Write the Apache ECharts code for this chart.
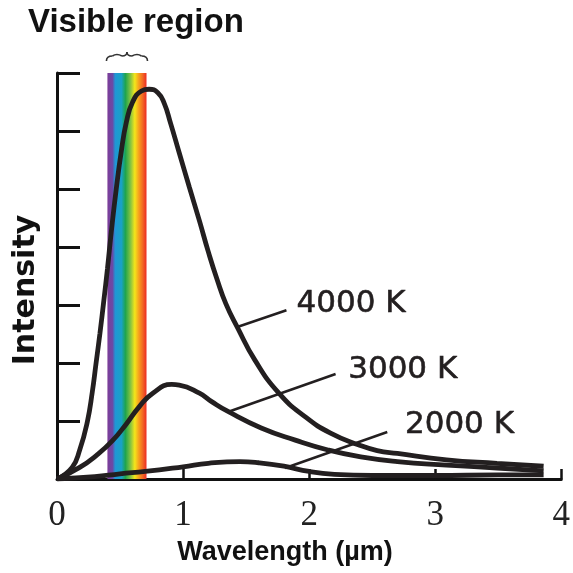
<!DOCTYPE html>
<html>
<head>
<meta charset="utf-8">
<script src="https://cdn.jsdelivr.net/npm/echarts@6/dist/echarts.min.js"></script>
<style>
  html, body { margin: 0; padding: 0; background: #fff; }
  #main { width: 573px; height: 573px; }
</style>
</head>
<body>
<div id="main"></div>
<script type="text/javascript">
// wavelength (um) / intensity pairs
var lam4000 = [0, 0.12, 0.18, 0.24, 0.28, 0.31, 0.34, 0.37, 0.40, 0.43, 0.47, 0.51, 0.55, 0.60, 0.67, 0.73, 0.80, 0.85, 0.90, 0.97, 1.05, 1.13, 1.20, 1.27, 1.34, 1.43, 1.57, 1.76, 1.97, 2.17, 2.39, 2.54, 2.70, 3.09, 3.49, 3.86];
var int4000 = [0, 0.20, 0.50, 0.98, 1.50, 2.00, 2.50, 3.05, 3.62, 4.25, 5.00, 5.65, 6.15, 6.50, 6.69, 6.72, 6.66, 6.48, 6.14, 5.62, 5.03, 4.45, 3.92, 3.44, 3.02, 2.62, 2.05, 1.48, 1.07, 0.79, 0.59, 0.49, 0.44, 0.33, 0.27, 0.22];

var lam3000 = [0, 0.18, 0.32, 0.44, 0.55, 0.65, 0.76, 0.91, 0.97, 1.13, 1.23, 1.36, 1.62, 1.89, 2.15, 2.41, 2.70, 3.09, 3.49, 3.86];
var int3000 = [0, 0.20, 0.42, 0.66, 0.95, 1.24, 1.48, 1.63, 1.62, 1.48, 1.33, 1.16, 0.88, 0.67, 0.50, 0.38, 0.30, 0.24, 0.19, 0.14];

var lam2000 = [0, 0.30, 0.50, 0.70, 1.00, 1.20, 1.45, 1.60, 1.80, 2.00, 2.20, 2.50, 3.00, 3.50, 3.86];
var int2000 = [0, 0.04, 0.09, 0.13, 0.21, 0.27, 0.30, 0.28, 0.22, 0.13, 0.08, 0.06, 0.06, 0.07, 0.07];

var xTicks = [0, 1, 2, 3, 4];
var visibleBand = [0.40, 0.71];

// leader lines: [from, to] in data coords, then label anchor
var leaders = {
    '4000 K': { line: [[1.43, 2.62], [1.82, 2.91]], text: [1.90, 3.02] },
    '3000 K': { line: [[1.36, 1.16], [2.21, 1.81]], text: [2.31, 1.88] },
    '2000 K': { line: [[1.81, 0.19], [2.62, 0.81]], text: [2.76, 0.93] }
};

function zip(a, b) {
    return a.map(function (v, i) { return [v, b[i]]; });
}

var ink = '#231f20';

var myChart = echarts.init(document.getElementById('main'));

function curve(name, lam, val) {
    return {
        name: name,
        type: 'line',
        data: zip(lam, val),
        smooth: 0.5,
        symbol: 'none',
        z: 3,
        lineStyle: { color: ink, width: 4.8, cap: 'butt' },
        markLine: {
            silent: true,
            symbol: ['none', 'none'],
            label: { show: false },
            lineStyle: { color: ink, width: 2.5, type: 'solid' },
            data: [[{ coord: leaders[name].line[0] }, { coord: leaders[name].line[1] }]]
        }
    };
}

option = {
    backgroundColor: '#fff',
    animation: false,
    grid: { left: 57, right: 9, top: 73, bottom: 94 },
    xAxis: {
        type: 'value',
        min: 0,
        max: 4,
        interval: 1,
        splitLine: { show: false },
        axisLine: { show: true, lineStyle: { color: '#111', width: 3 } },
        axisTick: { show: true, inside: true, length: 10, lineStyle: { color: '#111', width: 2.5 } },
        axisLabel: {
            fontFamily: 'Liberation Serif',
            fontSize: 35,
            color: '#222',
            margin: 19,
            formatter: function (v) { return xTicks.indexOf(v) >= 0 ? String(v) : ''; }
        }
    },
    yAxis: {
        type: 'value',
        min: 0,
        max: 7,
        interval: 1,
        splitLine: { show: false },
        axisLine: { show: true, lineStyle: { color: '#111', width: 3 } },
        axisTick: { show: true, inside: true, length: 23, lineStyle: { color: '#111', width: 3 } },
        axisLabel: { show: false }
    },
    series: [
        {
            name: 'visible',
            type: 'line',
            data: [],
            z: 1,
            markArea: {
                silent: true,
                itemStyle: {
                    opacity: 1,
                    color: new echarts.graphic.LinearGradient(0, 0, 1, 0, [
                        { offset: 0, color: '#7d3c98' },
                        { offset: 0.13, color: '#6a4aa6' },
                        { offset: 0.2, color: '#1f97d6' },
                        { offset: 0.36, color: '#19a2c4' },
                        { offset: 0.46, color: '#1ea44e' },
                        { offset: 0.6, color: '#8dc63f' },
                        { offset: 0.7, color: '#f4e61a' },
                        { offset: 0.8, color: '#f7a21d' },
                        { offset: 0.9, color: '#f26a24' },
                        { offset: 1, color: '#ec2b24' }
                    ])
                },
                data: [[{ xAxis: visibleBand[0], yAxis: 0 }, { xAxis: visibleBand[1], yAxis: 7 }]]
            }
        },
        curve('4000 K', lam4000, int4000),
        curve('3000 K', lam3000, int3000),
        curve('2000 K', lam2000, int2000)
    ]
};
myChart.setOption(option);

// annotations placed from data coordinates
var g = [];
Object.keys(leaders).forEach(function (k) {
    var p = myChart.convertToPixel({ gridIndex: 0 }, leaders[k].text);
    g.push({
        type: 'text', x: p[0], y: p[1],
        style: { text: k, fill: ink, font: '31px "DejaVu Sans"', textAlign: 'left', textVerticalAlign: 'middle', stroke: ink, lineWidth: 0.6 }
    });
});

// curly brace over the visible band
var a = myChart.convertToPixel({ gridIndex: 0 }, [visibleBand[0], 7]);
var b = myChart.convertToPixel({ gridIndex: 0 }, [visibleBand[1], 7]);
var x0 = a[0] - 1, x1 = b[0] + 1, xm = (x0 + x1) / 2;
var yb = a[1] - 12, ym = yb - 5, yt = yb - 9;
var bs = { stroke: '#333', lineWidth: 1.6, fill: null };
g.push({ type: 'bezierCurve', shape: { x1: x0, y1: yb, x2: x0 + 6, y2: ym, cpx1: x0, cpy1: ym }, style: bs });
g.push({ type: 'bezierCurve', shape: { x1: x0 + 6, y1: ym, x2: xm - 5, y2: ym, cpx1: (x0 + xm) / 2, cpy1: ym - 3 }, style: bs });
g.push({ type: 'bezierCurve', shape: { x1: xm - 5, y1: ym, x2: xm, y2: yt, cpx1: xm, cpy1: ym }, style: bs });
g.push({ type: 'bezierCurve', shape: { x1: xm, y1: yt, x2: xm + 5, y2: ym, cpx1: xm, cpy1: ym }, style: bs });
g.push({ type: 'bezierCurve', shape: { x1: xm + 5, y1: ym, x2: x1 - 6, y2: ym, cpx1: (xm + x1) / 2, cpy1: ym - 3 }, style: bs });
g.push({ type: 'bezierCurve', shape: { x1: x1 - 6, y1: ym, x2: x1, y2: yb, cpx1: x1, cpy1: ym }, style: bs });

// titles
g.push({
    type: 'text', x: 28, y: 23,
    style: { text: 'Visible region', fill: '#111', font: 'bold 33px "Liberation Sans"', textVerticalAlign: 'middle' }
});
g.push({
    type: 'text', x: 285, y: 553,
    style: { text: 'Wavelength (\u00b5m)', fill: '#111', font: 'bold 27px "Liberation Sans"', textAlign: 'center', textVerticalAlign: 'middle' }
});
g.push({
    type: 'text', x: 26, y: 290, rotation: Math.PI / 2,
    style: { text: 'Intensity', fill: '#111', font: 'bold 30px "DejaVu Sans"', textAlign: 'center', textVerticalAlign: 'middle' }
});

myChart.setOption({ graphic: g });
</script>
</body>
</html>
